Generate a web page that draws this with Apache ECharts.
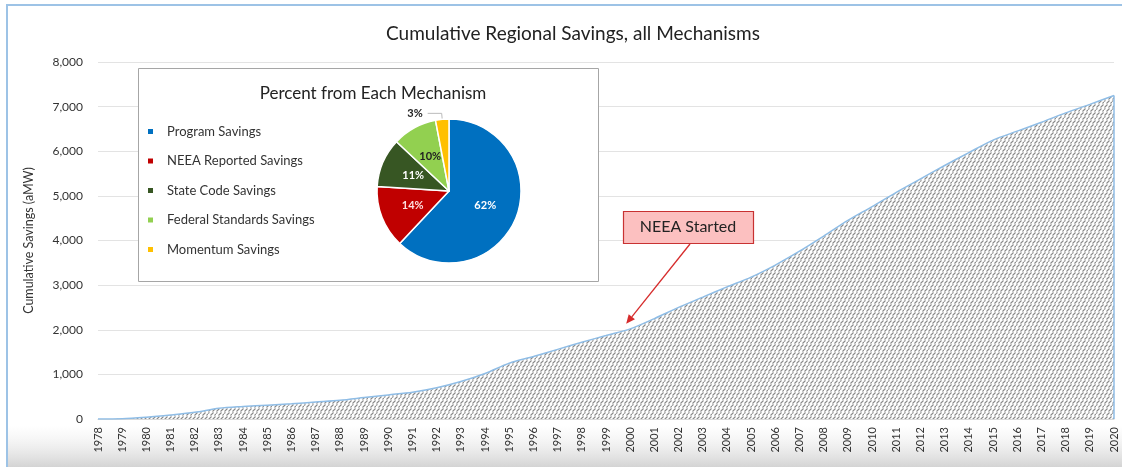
<!DOCTYPE html>
<html>
<head>
<meta charset="UTF-8">
<script src="https://cdn.jsdelivr.net/npm/echarts@6/dist/echarts.min.js"></script>
<title></title>
<style>
  body { margin: 0; background: #fff; }
</style>
</head>
<body>
<div id="main" style="width:1122px;height:467px"></div>
<script type="text/javascript">
// years on the x axis
var years = [];
for (var y = 1978; y <= 2020; y++) years.push(String(y));

// cumulative savings (aMW)
var savings = [0, 5, 40, 90, 150, 240, 280, 310, 340, 380,
    420, 480, 540, 600, 700, 840, 1020, 1250, 1400, 1560,
    1720, 1870, 2020, 2250, 2500, 2730, 2960, 3180, 3450, 3760,
    4100, 4450, 4760, 5080, 5380, 5680, 5970, 6250, 6450, 6650,
    6860, 7050, 7250];

// inset pie
var mechNames = ['Program Savings', 'NEEA Reported Savings', 'State Code Savings',
    'Federal Standards Savings', 'Momentum Savings'];
var mechPct = [62, 14, 11, 10, 3];
var mechColors = ['#0070C0', '#C00000', '#375623', '#92D050', '#FFC000'];
var mechLabelColors = ['#fff', '#fde0e0', '#fff', '#222', '#222'];

// hatch pattern for the area
function makeHatch() {
    var c = document.createElement('canvas');
    c.width = 8; c.height = 8;
    var ctx = c.getContext('2d');
    ctx.fillStyle = '#ffffff';
    ctx.fillRect(0, 0, 8, 8);
    ctx.strokeStyle = '#8a8a8a';
    ctx.lineWidth = 1.1;
    ctx.beginPath();
    // short diagonal dashes, offset rows
    ctx.moveTo(0.5, 3.5); ctx.lineTo(3.5, 0.5);
    ctx.moveTo(4.5, 3.5); ctx.lineTo(7.5, 0.5);
    ctx.moveTo(2.5, 7.5); ctx.lineTo(5.5, 4.5);
    ctx.moveTo(6.5, 7.5); ctx.lineTo(8, 6);
    ctx.moveTo(-1, 6); ctx.lineTo(1.5, 4.5);
    ctx.stroke();
    return c;
}

var myChart = echarts.init(document.getElementById('main'));
var font = 'Lato, "Open Sans", sans-serif';

var pieData = mechNames.map(function (n, i) {
    return {
        name: n, value: mechPct[i],
        itemStyle: { color: mechColors[i] },
        label: { color: mechLabelColors[i] }
    };
});
pieData[4].label = { position: 'outside', color: '#222' };
pieData[4].labelLine = { show: true, length: 6, length2: 14, lineStyle: { color: '#bbb' } };

var option = {
    animation: false,
    textStyle: { fontFamily: font },
    title: [{
        text: 'Cumulative Regional Savings, all Mechanisms',
        left: 568, top: 19, textAlign: 'center',
        textStyle: { fontSize: 19, fontWeight: 'normal', color: '#222', fontFamily: font }
    }, {
        text: 'Percent from Each Mechanism',
        left: 368, top: 80, textAlign: 'center',
        textStyle: { fontSize: 17, fontWeight: 'normal', color: '#222', fontFamily: font }
    }],
    legend: {
        orient: 'vertical',
        left: 141, top: 120,
        itemGap: 16.5,
        itemWidth: 7, itemHeight: 7,
        icon: 'rect',
        data: mechNames,
        textStyle: { fontSize: 13, color: '#333', fontFamily: font, padding: [0, 0, 0, 8] }
    },
    grid: { left: 98, right: 8, top: 62, bottom: 48 },
    xAxis: {
        type: 'category',
        data: years,
        boundaryGap: false,
        axisLine: { lineStyle: { color: '#d9d9d9' } },
        axisTick: { show: false },
        axisLabel: { rotate: 90, fontSize: 11, color: '#333', interval: 0, margin: 8 }
    },
    yAxis: {
        type: 'value',
        min: 0, max: 8000, interval: 1000,
        name: 'Cumulative Savings (aMW)',
        nameLocation: 'middle',
        nameGap: 63,
        nameTextStyle: { fontSize: 12.5, color: '#333' },
        axisLabel: {
            fontSize: 12, color: '#333', margin: 15,
            formatter: function (v) { return v.toLocaleString('en-US'); }
        },
        splitLine: { lineStyle: { color: '#e3e3e3' } }
    },
    series: [{
        type: 'line',
        data: savings,
        symbol: 'none',
        smooth: 0.3,
        lineStyle: { color: '#8fbde6', width: 1.5 },
        areaStyle: { color: { image: makeHatch(), repeat: 'repeat' }, opacity: 1 },
        markLine: {
            silent: true, symbol: 'none', label: { show: false },
            lineStyle: { color: '#8fbde6', width: 1.5, type: 'solid' },
            data: [[{ coord: [years[years.length - 1], 0] },
                    { coord: [years[years.length - 1], savings[savings.length - 1]] }]]
        }
    }, {
        type: 'pie',
        center: [449, 191],
        radius: 72,
        startAngle: 90,
        clockwise: true,
        data: pieData,
        itemStyle: { borderColor: '#fff', borderWidth: 1.5 },
        label: {
            position: 'inner', formatter: '{c}%', fontSize: 11,
            fontWeight: 'bold'
        },
        labelLine: { show: false }
    }],
    graphic: [{
        type: 'rect', z: -1,
        shape: { x: 7, y: 5, width: 1130, height: 480 },
        style: { fill: '#fff', stroke: '#9dc3e6', lineWidth: 2 }
    }, {
        type: 'rect', z: -1,
        shape: { x: 8, y: 425, width: 1114, height: 42 },
        style: {
            fill: new echarts.graphic.LinearGradient(0, 0, 0, 1, [
                { offset: 0, color: 'rgba(235,235,235,0)' },
                { offset: 1, color: 'rgba(212,212,212,1)' }])
        }
    }, {
        type: 'rect', z: 1,
        shape: { x: 138.5, y: 68.5, width: 460, height: 213 },
        style: { fill: '#fff', stroke: '#a6a6a6', lineWidth: 1 }
    }]
};

myChart.setOption(option);

// NEEA Started callout pointing at year 2000
var tip = myChart.convertToPixel({ seriesIndex: 0 }, ['2000', savings[years.indexOf('2000')]]);
var sx = 690, sy = 244;
var tx = tip[0] - 4, ty = tip[1] - 5;
var ang = Math.atan2(ty - sy, tx - sx);
var hl = 9, hw = 4;
var bx = tx - hl * Math.cos(ang), by = ty - hl * Math.sin(ang);
myChart.setOption({
    graphic: option.graphic.concat([{
        type: 'line', z: 10,
        shape: { x1: sx, y1: sy, x2: bx, y2: by },
        style: { stroke: '#d62b2b', lineWidth: 1.3 }
    }, {
        type: 'polygon', z: 10,
        shape: { points: [[tx, ty],
            [bx + hw * Math.sin(ang), by - hw * Math.cos(ang)],
            [bx - hw * Math.sin(ang), by + hw * Math.cos(ang)]] },
        style: { fill: '#d62b2b' }
    }, {
        type: 'rect', z: 10,
        shape: { x: 623.5, y: 211.5, width: 130, height: 32 },
        style: { fill: '#fcc0c0', stroke: '#c83232', lineWidth: 1.2 }
    }, {
        type: 'text', z: 11,
        x: 688, y: 227,
        style: {
            text: 'NEEA Started', fill: '#222', fontSize: 16, fontFamily: font,
            align: 'center', verticalAlign: 'middle'
        }
    }])
});
</script>
</body>
</html>
